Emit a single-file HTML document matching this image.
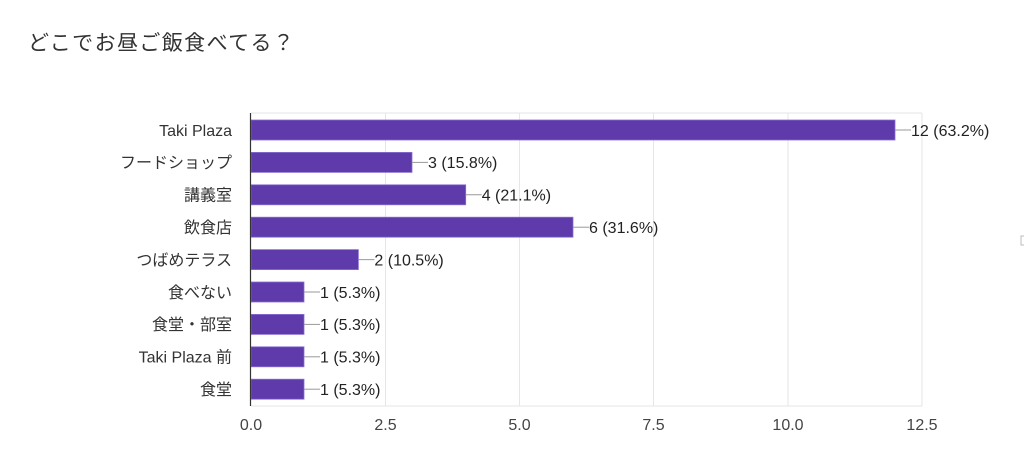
<!DOCTYPE html>
<html><head><meta charset="utf-8"><style>
html,body{margin:0;padding:0;background:#fff;}
svg{display:block;}
text{font-family:"Liberation Sans","Noto Sans CJK JP",sans-serif;}
</style></head><body>
<svg width="1024" height="465" viewBox="0 0 1024 465">
<text x="28" y="50" font-size="21" fill="#333" letter-spacing="1.4">どこでお昼ご飯食べてる？</text>
<g stroke="#e6e6e6" stroke-width="1">
<line x1="251" y1="113" x2="922" y2="113"/>
<line x1="251" y1="406" x2="922" y2="406"/>
<line x1="385.5" y1="113" x2="385.5" y2="406"/>
<line x1="519.5" y1="113" x2="519.5" y2="406"/>
<line x1="653.5" y1="113" x2="653.5" y2="406"/>
<line x1="788" y1="113" x2="788" y2="406"/>
<line x1="922" y1="113" x2="922" y2="406"/>
</g>
<g fill="#5e3aab" stroke="#8a6fd0" stroke-width="0.8">
<rect x="251" y="120" width="644" height="20"/>
<rect x="251" y="152.4" width="161" height="20"/>
<rect x="251" y="184.8" width="214.7" height="20"/>
<rect x="251" y="217.2" width="322" height="20"/>
<rect x="251" y="249.6" width="107.4" height="20"/>
<rect x="251" y="282" width="53" height="20"/>
<rect x="251" y="314.4" width="53" height="20"/>
<rect x="251" y="346.8" width="53" height="20"/>
<rect x="251" y="379.2" width="53" height="20"/>
</g>
<line x1="250.5" y1="113" x2="250.5" y2="406" stroke="#333" stroke-width="1.2"/>
<g stroke="#999" stroke-width="1">
<line x1="895" y1="130" x2="911" y2="130"/>
<line x1="412" y1="162.4" x2="428" y2="162.4"/>
<line x1="465.7" y1="194.8" x2="481.7" y2="194.8"/>
<line x1="573" y1="227.2" x2="589" y2="227.2"/>
<line x1="358.4" y1="259.6" x2="374.4" y2="259.6"/>
<line x1="304" y1="292" x2="320" y2="292"/>
<line x1="304" y1="324.4" x2="320" y2="324.4"/>
<line x1="304" y1="356.8" x2="320" y2="356.8"/>
<line x1="304" y1="389.2" x2="320" y2="389.2"/>
</g>
<g font-size="16" fill="#222">
<text x="911" y="135.8">12 (63.2%)</text>
<text x="428" y="168.2">3 (15.8%)</text>
<text x="481.7" y="200.6">4 (21.1%)</text>
<text x="589" y="233">6 (31.6%)</text>
<text x="374.4" y="265.4">2 (10.5%)</text>
<text x="320" y="297.8">1 (5.3%)</text>
<text x="320" y="330.2">1 (5.3%)</text>
<text x="320" y="362.6">1 (5.3%)</text>
<text x="320" y="395">1 (5.3%)</text>
</g>
<g font-size="16" fill="#333" text-anchor="end">
<text x="232" y="135.8">Taki Plaza</text>
<text x="232" y="168.2">フードショップ</text>
<text x="232" y="200.6">講義室</text>
<text x="232" y="233">飲食店</text>
<text x="232" y="265.4">つばめテラス</text>
<text x="232" y="297.8">食べない</text>
<text x="232" y="330.2">食堂・部室</text>
<text x="232" y="362.6">Taki Plaza 前</text>
<text x="232" y="395">食堂</text>
</g>
<g font-size="16" fill="#444" text-anchor="middle">
<text x="251" y="430">0.0</text>
<text x="385.5" y="430">2.5</text>
<text x="519.5" y="430">5.0</text>
<text x="653.5" y="430">7.5</text>
<text x="788" y="430">10.0</text>
<text x="922" y="430">12.5</text>
</g>
<rect x="1021" y="236" width="4" height="9" fill="none" stroke="#bbb" stroke-width="1"/>
</svg>
</body></html>
